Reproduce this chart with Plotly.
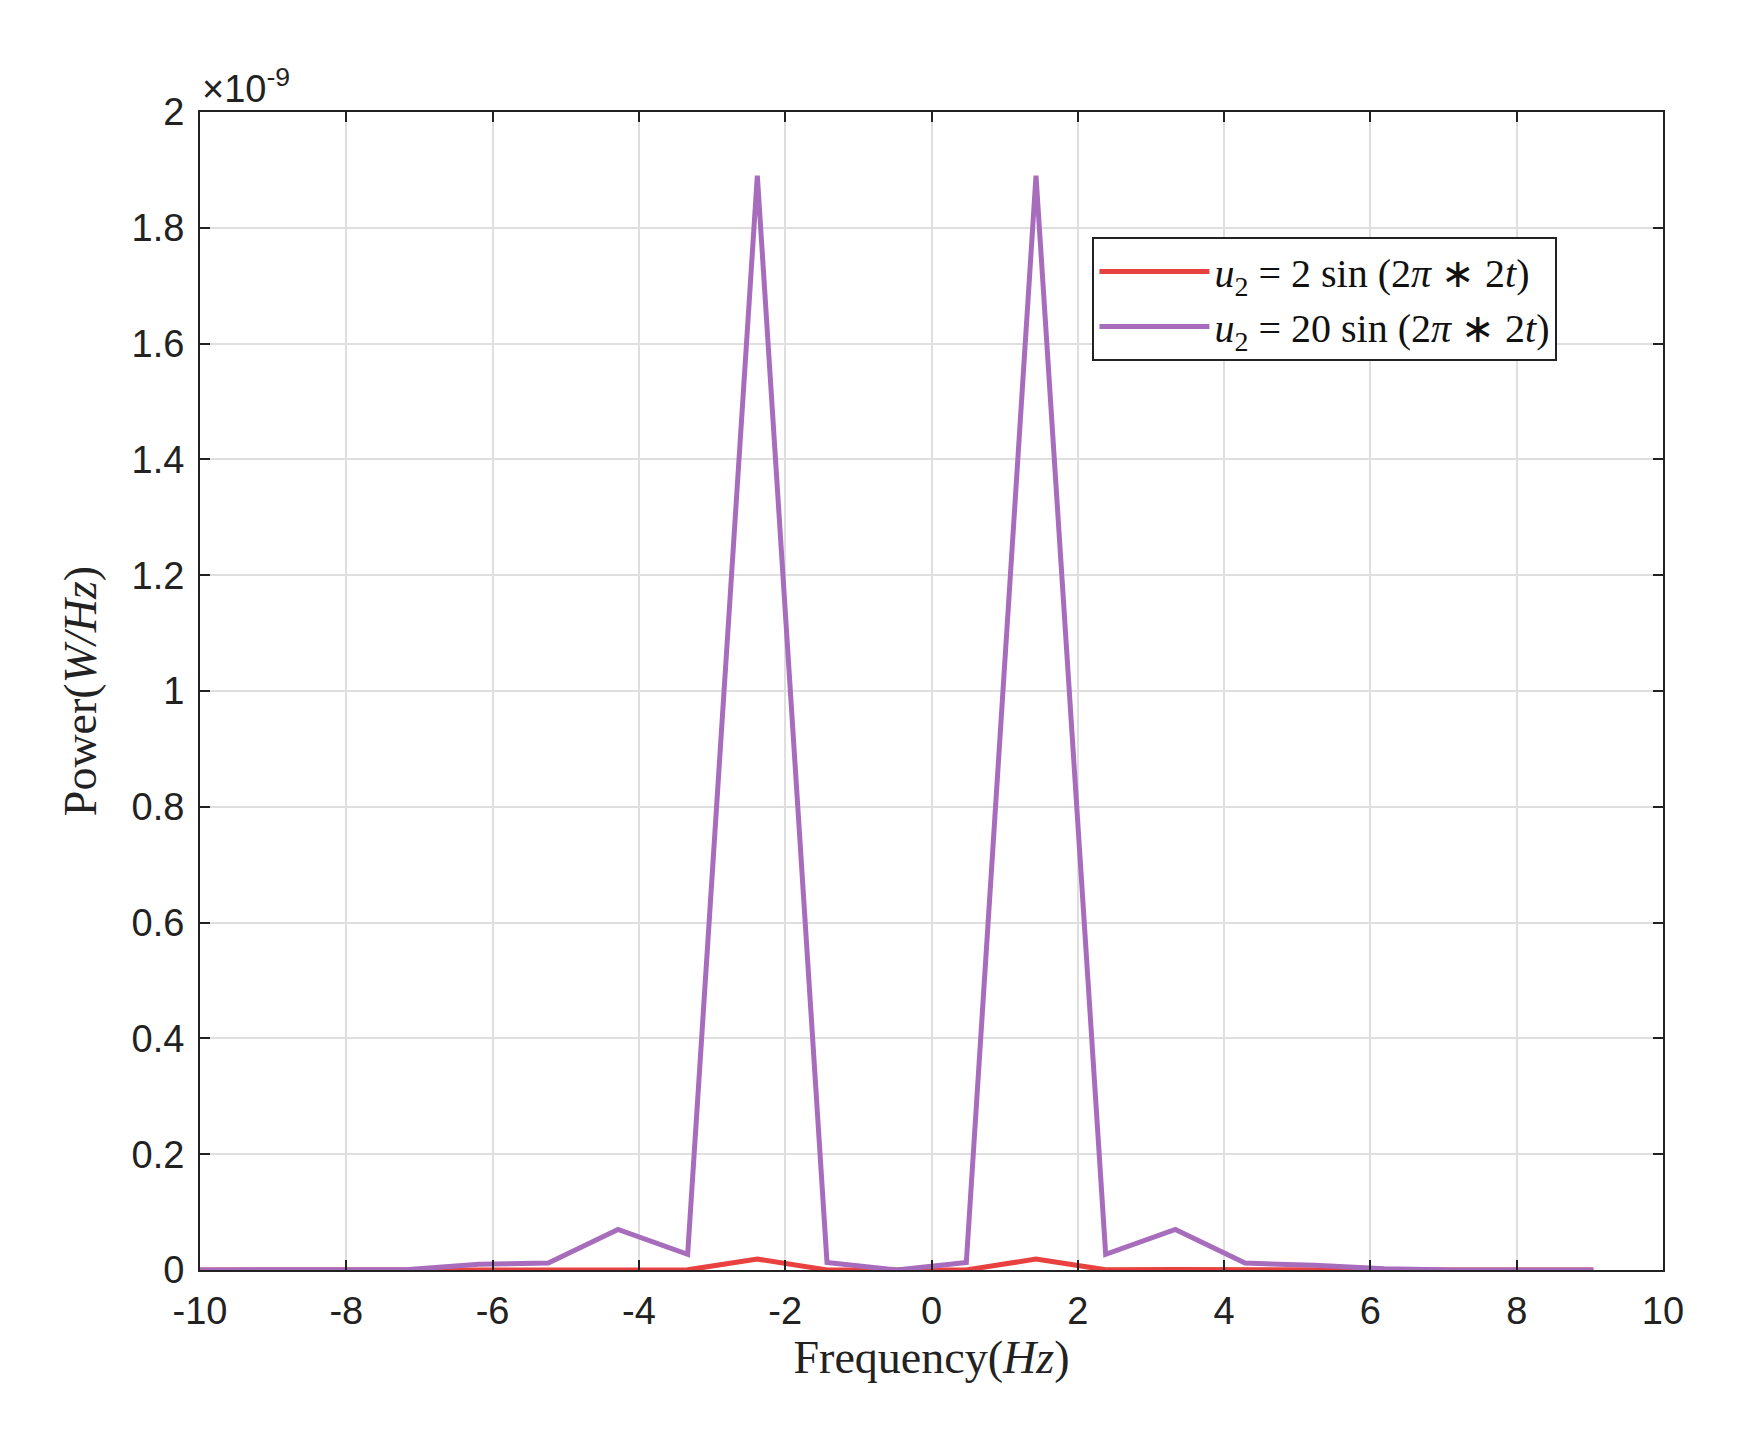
import plotly.graph_objects as go

freq = [-10 + k * 20 / 21 for k in range(21)]
p20 = [0, 0, 0, 0.001, 0.01, 0.012, 0.07, 0.027, 1.89, 0.013, 0.0, 0.013, 1.89, 0.027, 0.07, 0.012, 0.008, 0.002, 0, 0, 0]
p2 = [0, 0, 0, 0.00001, 0.0001, 0.00012, 0.0007, 0.00027, 0.0189, 0.00013, 0.0, 0.00013, 0.0189, 0.00027, 0.0007, 0.00012, 0.00008, 0.00002, 0, 0, 0]
xticks = list(range(-10, 11, 2))
yticks = [round(0.2 * i, 1) for i in range(11)]

fig = go.Figure()
fig.add_trace(go.Scatter(x=freq, y=p2, mode="lines", line=dict(color="#e8413f", width=5),
                         name="<i>u</i><sub>2</sub> = 2 sin (2<i>π</i> ∗ 2<i>t</i>)"))
fig.add_trace(go.Scatter(x=freq, y=p20, mode="lines", line=dict(color="#a86cbd", width=5),
                         name="<i>u</i><sub>2</sub> = 20 sin (2<i>π</i> ∗ 2<i>t</i>)"))
ax = dict(showgrid=True, gridcolor="#dfdfdf", gridwidth=2, showline=True, mirror="ticks",
          linecolor="#222", linewidth=2, ticks="inside", ticklen=10, tickwidth=2, tickcolor="#222",
          zeroline=False, tickfont=dict(family="Liberation Sans, Arial", size=38, color="#222"))
fig.update_xaxes(**ax, range=[-10, 10], tickvals=xticks, ticktext=[str(v) for v in xticks], ticklabelstandoff=6,
                 title=dict(text="Frequency(<i>Hz</i>)", font=dict(family="Liberation Serif", size=46, color="#222"), standoff=8))
fig.update_yaxes(**ax, range=[0, 2], tickvals=yticks, ticktext=[("%g" % v) for v in yticks], ticklabelstandoff=6,
                 title=dict(text="Power(<i>W/Hz</i>)", font=dict(family="Liberation Serif", size=46, color="#222"), standoff=20))
fig.add_annotation(xref="paper", yref="paper", x=0, y=1.0, xanchor="left", yanchor="bottom",
                   text="×10<sup>-9</sup>", showarrow=False, font=dict(family="Liberation Sans", size=38, color="#222"))
fig.update_layout(width=1751, height=1446, plot_bgcolor="white", paper_bgcolor="white",
                  margin=dict(l=192, r=96, t=104, b=184),
                  legend=dict(x=0.61, y=0.892, xanchor="left", yanchor="top", bordercolor="#222", borderwidth=2,
                              bgcolor="white", itemwidth=110, font=dict(family="Liberation Serif", size=40, color="#111")))
fig.write_html("out.html")
